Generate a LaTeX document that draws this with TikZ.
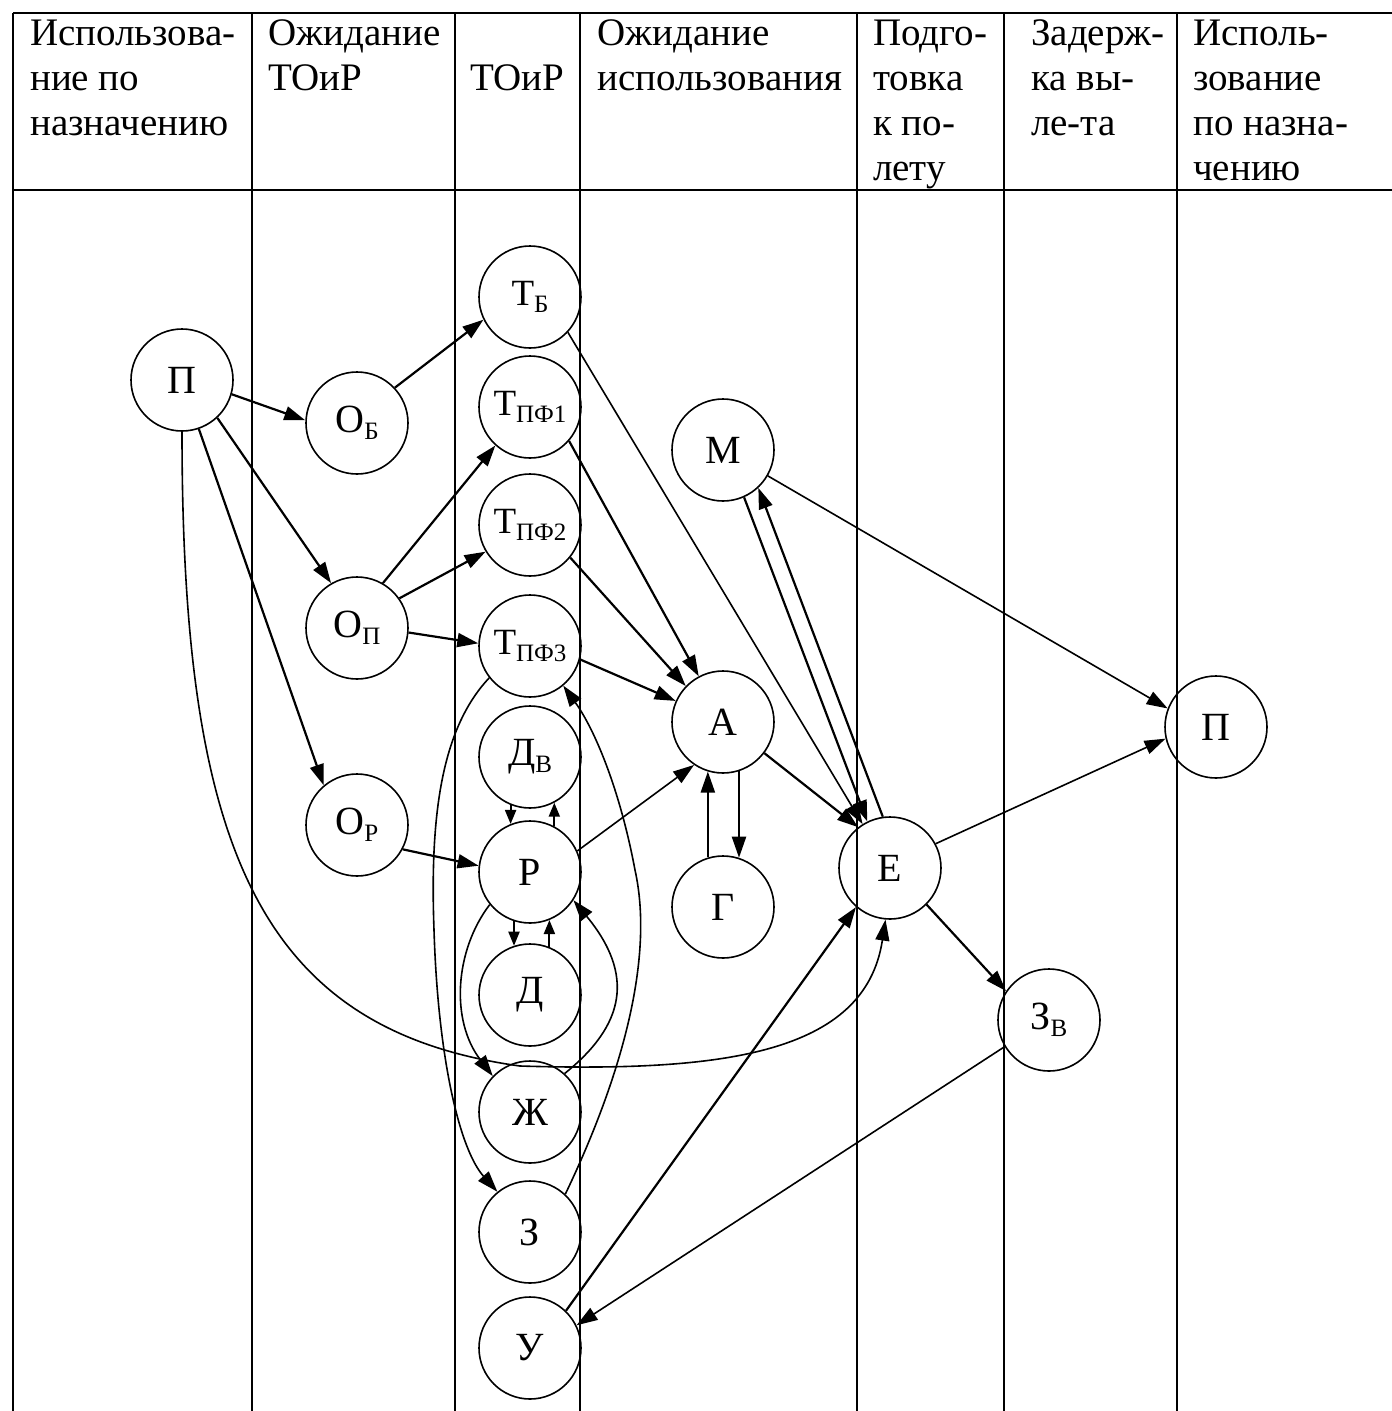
\documentclass[tikz,border=0pt]{standalone}
\usepackage{fontspec}
\setmainfont{Liberation Serif}
\usetikzlibrary{arrows.meta}
\newcommand{\sbs}[1]{\raisebox{-7pt}{\fontsize{25}{25}\selectfont #1}}
\begin{document}
\begin{tikzpicture}[x=1pt,y=-1pt,
  st/.style={circle,draw,line width=1.6pt,minimum size=102pt,inner sep=0pt,font=\fontsize{40}{40}\selectfont},
  tst/.style={st,font=\fontsize{37}{37}\selectfont},
  ar/.style={line width=2.2pt,-{Triangle[length=21pt,width=14pt]}},
  arthin/.style={line width=1.6pt,-{Triangle[length=21pt,width=14pt]}},
  arsmall/.style={line width=2pt,-{Triangle[length=14pt,width=11pt]}},
  grid/.style={line width=1.8pt},
  hd/.style={anchor=base west,inner sep=0pt,font=\fontsize{39}{45}\selectfont}]
\useasboundingbox (0,0) rectangle (1392,1411);
% table
\draw[grid] (13,13) -- (1392,13);
\draw[grid] (13,190) -- (1392,190);
\foreach \xx in {13,252,455,580,857,1004,1177}
  \draw[grid] (\xx,13) -- (\xx,1411);
% header
\node[hd] (h1) at (30,45) {\begin{tabular}[t]{@{}l@{}}Использова-\\ние по\\назначению\end{tabular}};
\node[hd] (h2) at (268,45) {\begin{tabular}[t]{@{}l@{}}Ожидание\\ТОиР\end{tabular}};
\node[hd] (h3) at (470,90) {ТОиР};
\node[hd] (h4) at (597,45) {\begin{tabular}[t]{@{}l@{}}Ожидание\\использования\end{tabular}};
\node[hd] (h5) at (873,45) {\begin{tabular}[t]{@{}l@{}}Подго-\\товка\\к по-\\лету\end{tabular}};
\node[hd] (h6) at (1031,45) {\begin{tabular}[t]{@{}l@{}}Задерж-\\ка вы-\\ле-та\end{tabular}};
\node[hd] (h7) at (1193,45) {\begin{tabular}[t]{@{}l@{}}Исполь-\\зование\\по назна-\\чению\end{tabular}};
% states
\node[st] (P1) at (182,380) {П};
\node[st] (OB) at (357,423) {О\sbs{Б}};
\node[st] (OP) at (357,628) {О\sbs{П}};
\node[st] (OR) at (357,825) {О\sbs{Р}};
\node[tst] (TB) at (530,297) {Т\sbs{Б}};
\node[tst] (T1) at (530,407) {Т\sbs{ПФ1}};
\node[tst] (T2) at (530,525) {Т\sbs{ПФ2}};
\node[tst] (T3) at (530,646) {Т\sbs{ПФ3}};
\node[st] (DV) at (530,757) {Д\sbs{В}};
\node[st] (R) at (530,872) {Р};
\node[st] (D) at (530,995) {Д};
\node[st] (ZH) at (530,1112) {Ж};
\node[st] (Z) at (530,1232) {З};
\node[st] (U) at (530,1348) {У};
\node[st] (M) at (723,450) {М};
\node[st] (A) at (723,722) {А};
\node[st] (G) at (723,907) {Г};
\node[st] (E) at (890,868) {Е};
\node[st] (ZB) at (1049,1020) {З\sbs{В}};
\node[st] (P2) at (1216,727) {П};
% edges
\draw[ar] (P1.-16) -- (OB.177);
\draw[ar] (P1.-47) -- (OP.120);
\draw[ar] (P1.-71) -- (OR.130);
\draw[arthin] (P1.-90) .. controls (182,850) and (260,1030) .. (520,1066)
  .. controls (720,1072) and (865,1055) .. (E.265);
\draw[ar] (OB.43) -- (TB.206);
\draw[ar] (OP.60) -- (T1.228);
\draw[ar] (OP.35) -- (T2.211);
\draw[ar] (OP.-5) -- (T3.177);
\draw[ar] (OR.-28) -- (R.173);
\draw[arthin] (TB.-43) -- (E.122);
\draw[ar] (T1.-41) -- (A.118);
\draw[ar] (T2.-39) -- (A.136);
\draw[ar] (T3.-15) -- (A.156);
\draw[arthin] (R.24) -- (A.236);
\draw[arsmall] (DV.248) -- (R.112);
\draw[arsmall] (R.62) -- (DV.298);
\draw[arsmall] (R.252) -- (D.108);
\draw[arsmall] (D.68) -- (R.292);
\draw[arthin] (T3.218) .. controls (440,730) and (430,820) .. (434,930)
  .. controls (438,1060) and (460,1150) .. (Z.129);
\draw[arthin] (R.219) .. controls (455,950) and (450,1020) .. (ZH.136);
\draw[arthin] (Z.47) .. controls (620,1080) and (655,960) .. (635,870)
  .. controls (620,790) and (595,730) .. (T3.-50);
\draw[arthin] (ZH.48) .. controls (625,1025) and (635,975) .. (R.-33);
\draw[ar] (A.288) -- (G.72);
\draw[ar] (G.107) -- (A.253);
\draw[ar] (A.-37) -- (E.128);
\draw[ar] (M.294) -- (E.116);
\draw[ar] (E.98) -- (M.313);
\draw[arthin] (M.-30) -- (P2.159);
\draw[arthin] (E.28) -- (P2.193);
\draw[ar] (E.-45) -- (ZB.146);
\draw[arthin] (ZB.211) -- (U.26);
\draw[ar] (U.46) -- (E.229);
\end{tikzpicture}
\end{document}
